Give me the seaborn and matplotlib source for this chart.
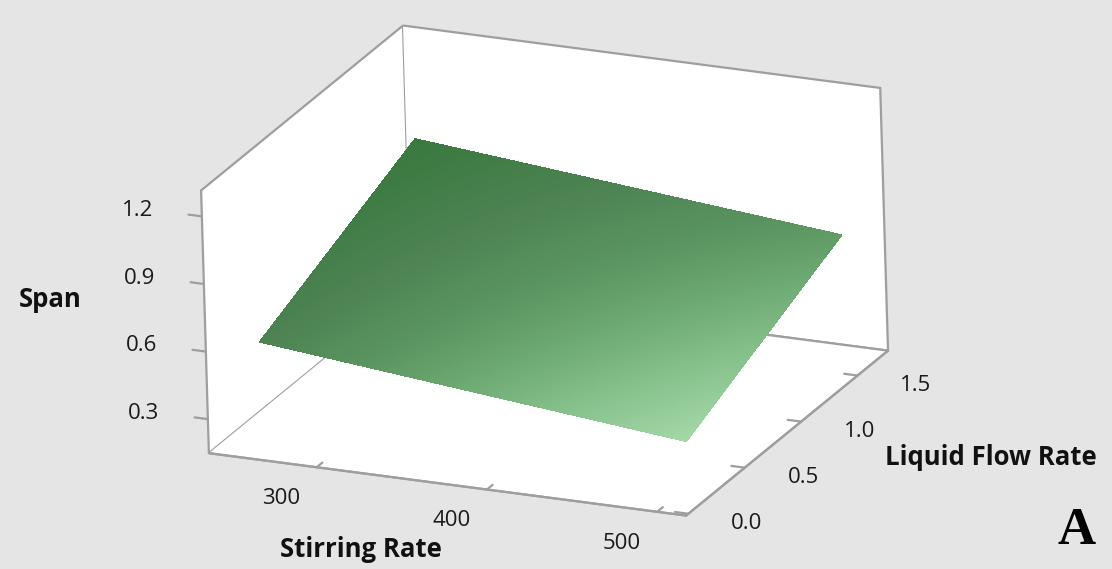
import numpy as np
import matplotlib
matplotlib.use("Agg")
import matplotlib.pyplot as plt
import seaborn as sns

# Fitted response surface for Span, given at the corners of the design region
stirring_levels = [250, 500]          # Stirring Rate
flow_levels = [0.25, 1.65]            # Liquid Flow Rate
span_at_levels = [[0.545, 0.875],     # stirring 250: flow low, flow high
                  [0.35, 0.695]]      # stirring 500: flow low, flow high

stirring_ticks = [300, 400, 500]
flow_ticks = [0.0, 0.5, 1.0, 1.5]
span_ticks = [0.3, 0.6, 0.9, 1.2]

sns.set_theme(style="white")
plt.rcParams["font.family"] = ["Open Sans", "DejaVu Sans"]

BG = "#e5e5e5"
EDGE = "#9e9e9e"

fig = plt.figure(figsize=(11.12, 5.69), dpi=100, facecolor=BG)
# 3D axes are drawn in a square; make it as wide as the figure
ax = fig.add_axes([-0.0238, -0.4789, 1.0, 1.954], projection="3d", proj_type="ortho")
ax.set_facecolor(BG)
ax.view_init(elev=20.6, azim=-65.4, roll=1.7)
ax.set_box_aspect((523, 497, 281), zoom=0.6755)

# Fine mesh over the design region so the colour shading runs smoothly
n = 160
u = np.linspace(0.0, 1.0, n)
U, V = np.meshgrid(u, u, indexing="ij")
S0, S1 = stirring_levels
F0, F1 = flow_levels
X = S0 + (S1 - S0) * U
Y = F0 + (F1 - F0) * V
z = np.asarray(span_at_levels)
Z = (z[0, 0] * (1 - U) * (1 - V) + z[0, 1] * (1 - U) * V
     + z[1, 0] * U * (1 - V) + z[1, 1] * U * V)

# Green shading: darkest at low stirring / high flow, lightest at high stirring / low flow
greens = sns.blend_palette(["#a4d8a8", "#8bc490", "#71ad76", "#5b9561", "#4d8253", "#39793e"],
                           as_cmap=True)
shade = 0.8 * (1 - U) * (1 - V) + 1.0 * (1 - U) * V + 0.55 * U * V
ax.plot_surface(X, Y, Z, facecolors=greens(shade), shade=False,
                rcount=n, ccount=n, linewidth=0, antialiased=False)

ax.set_xlim(236.7, 517.0)
ax.set_ylim(-0.02, 1.77)
ax.set_zlim(0.149, 1.315)
ax.set_xticks(stirring_ticks)
ax.set_yticks(flow_ticks)
ax.set_zticks(span_ticks)
ax.set_xticklabels([f"{t:d}" for t in stirring_ticks], va="center_baseline")
ax.set_yticklabels([f"{t:.1f}" for t in flow_ticks], va="center_baseline")
ax.set_zticklabels([f"{t:.1f}" for t in span_ticks], va="center_baseline")

ax.grid(False)
for axis in (ax.xaxis, ax.yaxis, ax.zaxis):
    axis.set_pane_color((1, 1, 1, 1))
    axis.pane.set_edgecolor(EDGE)
    axis.pane.set_linewidth(1.6)
    axis.line.set_color(EDGE)
    axis.line.set_linewidth(1.6)
    axis._axinfo["tick"]["inward_factor"] = 0.0
    axis._axinfo["tick"]["outward_factor"] = 0.35
    axis._axinfo["tick"]["linewidth"] = {True: 1.6, False: 1.0}
ax.zaxis.set_ticks_position("lower")

# Each axis' ticks and tick labels step out along a single direction:
# Span ticks to the left, Stirring ticks toward the viewer, Flow ticks to the right
ax.zaxis._get_tickdir = lambda position: 0
ax.zaxis._axmask = lambda: [True, False, False]
ax.xaxis._axmask = lambda: [False, True, False]
ax.yaxis._axmask = lambda: [True, False, False]

ax.tick_params(axis="both", labelsize=16, color=EDGE, labelcolor="#1a1a1a")
ax.tick_params(axis="x", pad=65)
ax.tick_params(axis="y", pad=43)
ax.tick_params(axis="z", pad=48)

# Axis titles sit level, in the Minitab manner
lab = dict(fontsize=18.5, fontweight="bold", color="#111111", ha="center", va="center")
fig.text(0.3246, 0.035, "Stirring Rate", **lab)
fig.text(0.8912, 0.1968, "Liquid Flow Rate", **lab)
fig.text(0.045, 0.473, "Span", **lab)

fig.text(0.985, 0.0246, "A", ha="right", va="bottom", fontsize=38,
         fontweight="bold", family="Liberation Serif", color="#000000")

fig.savefig("out.png", dpi=100, facecolor=BG)
